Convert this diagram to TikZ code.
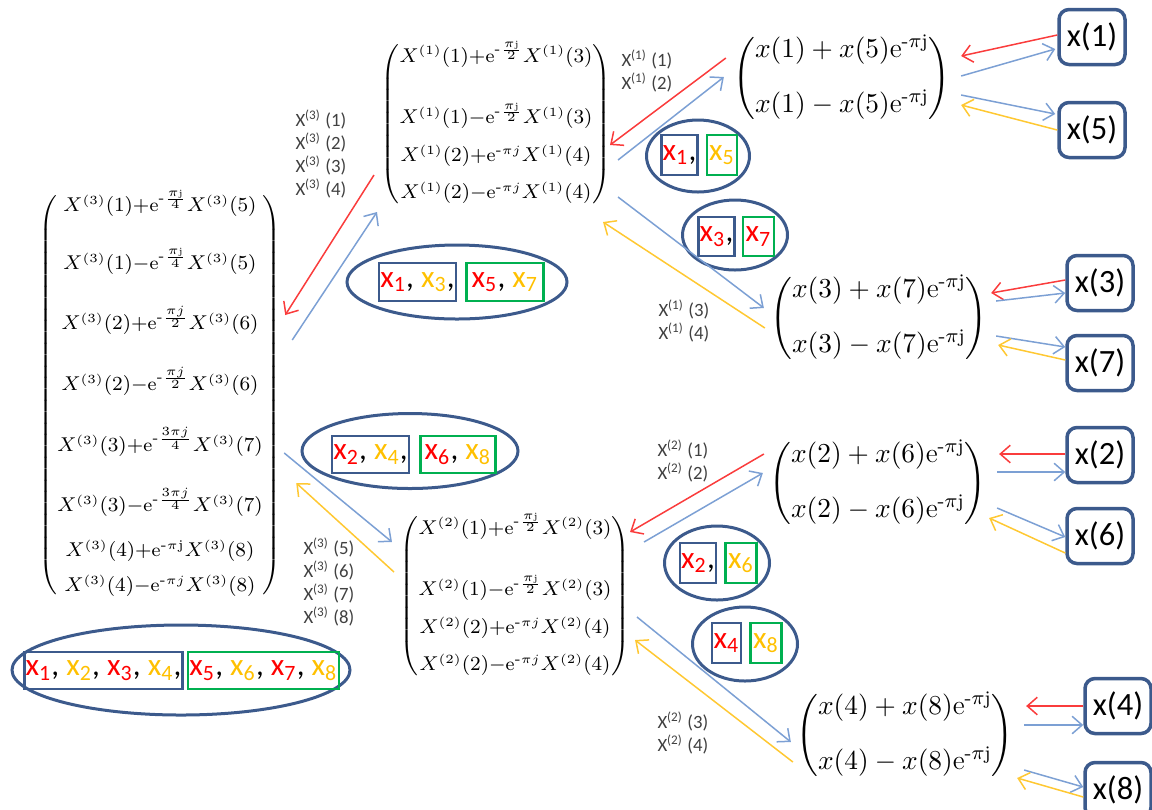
\documentclass[tikz,border=0pt]{standalone}
\usepackage{amsmath}
\usepackage{fontspec}
\setsansfont{Carlito}
\usepackage{tikz}
\usetikzlibrary{positioning,arrows.meta,calc,shapes.geometric}
\definecolor{frame}{RGB}{60,90,140}
\definecolor{setgreen}{RGB}{0,176,80}
\definecolor{xred}{RGB}{255,0,0}
\definecolor{xyel}{RGB}{255,192,0}
\definecolor{arrred}{RGB}{250,60,60}
\definecolor{arrblue}{RGB}{124,160,212}
\definecolor{arryel}{RGB}{255,200,50}
\newcommand{\xr}[1]{\textcolor{xred}{x\textsubscript{#1}}}
\newcommand{\xy}[1]{\textcolor{xyel}{x\textsubscript{#1}}}
\newcommand{\Xs}[1]{X\textsuperscript{(#1)}\ }
\newcommand{\nm}{\text{-}}

\begin{document}
\begin{tikzpicture}[x=0.4pt,y=-0.4pt,
    mat/.style={inner sep=0pt,font=\fontsize{7.6}{11}\selectfont},
    rmat/.style={inner sep=0pt,font=\fontsize{11}{13}\selectfont},
    leaf/.style={draw=frame,line width=1.4pt,rounded corners=4pt,minimum width=26.4pt,
                 minimum height=22pt,inner sep=1pt,font=\sffamily\fontsize{13}{15}\selectfont},
    lbl/.style={anchor=west,align=left,inner sep=0pt,text=black!75,
                font=\sffamily\fontsize{7.5}{9.2}\selectfont},
    grp/.style={ellipse,draw=frame,line width=1.2pt,inner sep=0pt},
    bset/.style={draw=frame,line width=1pt,inner xsep=0.5pt,inner ysep=0pt,
                 font=\sffamily\fontsize{12.5}{14}\selectfont},
    gset/.style={bset,draw=setgreen},
    lnk/.style={-{Straight Barb[length=4pt,width=7pt]},line width=0.6pt},
    rarr/.style={lnk,draw=arrred},
    barr/.style={lnk,draw=arrblue},
    yarr/.style={lnk,draw=arryel}
  ]
  \useasboundingbox (0,0) rectangle (1152,809);

  % Stage 3 (8 points)
  \node[mat] (m3) at (160,395) {$\left(\begin{array}{@{}c@{}}
    X^{(3)}(1){+}\mathrm{e}^{\nm\frac{\pi\mathrm{j}}{4}}X^{(3)}(5)\\[11.5pt]
    X^{(3)}(1){-}\mathrm{e}^{\nm\frac{\pi\mathrm{j}}{4}}X^{(3)}(5)\\[11.5pt]
    X^{(3)}(2){+}\mathrm{e}^{\nm\frac{\pi j}{2}}X^{(3)}(6)\\[11.5pt]
    X^{(3)}(2){-}\mathrm{e}^{\nm\frac{\pi j}{2}}X^{(3)}(6)\\[11.5pt]
    X^{(3)}(3){+}\mathrm{e}^{\nm\frac{3\pi j}{4}}X^{(3)}(7)\\[11.5pt]
    X^{(3)}(3){-}\mathrm{e}^{\nm\frac{3\pi j}{4}}X^{(3)}(7)\\[7pt]
    X^{(3)}(4){+}\mathrm{e}^{\nm\pi\mathrm{j}}X^{(3)}(8)\\[3pt]
    X^{(3)}(4){-}\mathrm{e}^{\nm\pi j}X^{(3)}(8)
  \end{array}\right)$};

  % Stage 2 (4 points)
  \node[mat] (m1a) at (496,124) {$\left(\begin{array}{@{}c@{}}
    X^{(1)}(1){+}\mathrm{e}^{\nm\frac{\pi\mathrm{j}}{2}}X^{(1)}(3)\\[13pt]
    X^{(1)}(1){-}\mathrm{e}^{\nm\frac{\pi\mathrm{j}}{2}}X^{(1)}(3)\\[4pt]
    X^{(1)}(2){+}\mathrm{e}^{\nm\pi j}X^{(1)}(4)\\[4pt]
    X^{(1)}(2){-}\mathrm{e}^{\nm\pi j}X^{(1)}(4)
  \end{array}\right)$};
  \node[mat] (m1b) at (515,596) {$\left(\begin{array}{@{}c@{}}
    X^{(2)}(1){+}\mathrm{e}^{\nm\frac{\pi\mathrm{j}}{2}}X^{(2)}(3)\\[13pt]
    X^{(2)}(1){-}\mathrm{e}^{\nm\frac{\pi\mathrm{j}}{2}}X^{(2)}(3)\\[4pt]
    X^{(2)}(2){+}\mathrm{e}^{\nm\pi j}X^{(2)}(4)\\[4pt]
    X^{(2)}(2){-}\mathrm{e}^{\nm\pi j}X^{(2)}(4)
  \end{array}\right)$};

  % Stage 1 (2 points)
  \node[rmat] (r15) at (842,78) {$\left(\begin{array}{@{}c@{}}
    x(1)+x(5)\mathrm{e}^{\nm\pi\mathrm{j}}\\[9pt] x(1)-x(5)\mathrm{e}^{\nm\pi\mathrm{j}}\end{array}\right)$};
  \node[rmat] (r37) at (879,318) {$\left(\begin{array}{@{}c@{}}
    x(3)+x(7)\mathrm{e}^{\nm\pi\mathrm{j}}\\[9pt] x(3)-x(7)\mathrm{e}^{\nm\pi\mathrm{j}}\end{array}\right)$};
  \node[rmat] (r26) at (878,483) {$\left(\begin{array}{@{}c@{}}
    x(2)+x(6)\mathrm{e}^{\nm\pi\mathrm{j}}\\[9pt] x(2)-x(6)\mathrm{e}^{\nm\pi\mathrm{j}}\end{array}\right)$};
  \node[rmat] (r48) at (905,735) {$\left(\begin{array}{@{}c@{}}
    x(4)+x(8)\mathrm{e}^{\nm\pi\mathrm{j}}\\[9pt] x(4)-x(8)\mathrm{e}^{\nm\pi\mathrm{j}}\end{array}\right)$};

  % inputs
  \node[leaf] (b1) at (1092,37) {x(1)};
  \node[leaf] (b5) at (1092,130) {x(5)};
  \node[leaf] (b3) at (1100,283) {x(3)};
  \node[leaf] (b7) at (1100,363) {x(7)};
  \node[leaf] (b2) at (1100,455) {x(2)};
  \node[leaf] (b6) at (1100,536) {x(6)};
  \node[leaf] (b4) at (1118,706) {x(4)};
  \node[leaf] (b8) at (1118,790) {x(8)};

  % index labels
  \node[lbl] (a3top) at (295,154) {\Xs{3}(1)\\\Xs{3}(2)\\\Xs{3}(3)\\\Xs{3}(4)};
  \node[lbl] (a3bot) at (303,582) {\Xs{3}(5)\\\Xs{3}(6)\\\Xs{3}(7)\\\Xs{3}(8)};
  \node[lbl] (a1top) at (621,71) {\Xs{1}(1)\\\Xs{1}(2)};
  \node[lbl] (a1bot) at (658,321) {\Xs{1}(3)\\\Xs{1}(4)};
  \node[lbl] (a2top) at (657,461) {\Xs{2}(1)\\\Xs{2}(2)};
  \node[lbl] (a2bot) at (657,733) {\Xs{2}(3)\\\Xs{2}(4)};

  % sample groups
  \node[grp,minimum width=135.2pt,minimum height=36pt] (e-all) at (181,670) {};
  \node[bset,minimum width=58pt,minimum height=14.8pt] (s-all-a) at (103.5,670.5)
    {\xr{1}, \xy{2}, \xr{3}, \xy{4},};
  \node[gset,minimum width=56.8pt,minimum height=14.8pt,right=1.2pt of s-all-a] (s-all-b)
    {\xr{5}, \xy{6}, \xr{7}, \xy{8}};

  \node[grp,minimum width=88pt,minimum height=29.6pt] (e-odd) at (457,282) {};
  \node[bset,minimum width=26.8pt,minimum height=15.2pt] (s-odd-a) at (417.5,282)
    {\xr{1}, \xy{3},};
  \node[gset,minimum width=30.8pt,minimum height=15.2pt,right=3.2pt of s-odd-a] (s-odd-b)
    {\xr{5}, \xy{7}};

  \node[grp,minimum width=86.4pt,minimum height=30pt] (e-even) at (410,451) {};
  \node[bset,minimum width=26.8pt,minimum height=14.8pt] (s-even-a) at (370.5,454.5)
    {\xr{2}, \xy{4},};
  \node[gset,minimum width=30pt,minimum height=14.8pt,right=3.6pt of s-even-a] (s-even-b)
    {\xr{6}, \xy{8}};

  \node[grp,minimum width=41.2pt,minimum height=28.8pt] (e-15) at (698,156) {};
  \node[bset,minimum width=12.4pt,minimum height=16pt] (s-15-a) at (679.5,155) {\xr{1},};
  \node[gset,minimum width=12pt,minimum height=16pt,right=2.8pt of s-15-a] (s-15-b) {\xy{5}};

  \node[grp,minimum width=42pt,minimum height=28pt] (e-37) at (735,235) {};
  \node[bset,minimum width=12.4pt,minimum height=15.6pt] (s-37-a) at (716.5,236.5) {\xr{3},};
  \node[gset,minimum width=12.4pt,minimum height=15.6pt,right=2.4pt of s-37-a] (s-37-b) {\xr{7}};

  \node[grp,minimum width=42pt,minimum height=29.6pt] (e-26) at (717,563) {};
  \node[bset,minimum width=12pt,minimum height=16pt] (s-26-a) at (698,563) {\xr{2},};
  \node[gset,minimum width=12.4pt,minimum height=16pt,right=2.8pt of s-26-a] (s-26-b) {\xy{6}};

  \node[grp,minimum width=42pt,minimum height=29.6pt] (e-48) at (745,644) {};
  \node[bset,minimum width=11.6pt,minimum height=16pt] (s-48-a) at (726.5,643) {\xr{4}};
  \node[gset,minimum width=12.4pt,minimum height=16pt,right=2.8pt of s-48-a] (s-48-b) {\xy{8}};

  % stage 3 <-> stage 2
  \draw[rarr] ($(m1a.west)+(-6,51)$) -- ($(m3.east)+(3,-80)$);
  \draw[barr] ($(m3.east)+(10,-55)$) -- ($(m1a.west)+(-3,88)$);
  \draw[barr] ($(m3.east)+(2,58)$) -- ($(m1b.west)+(-7,-54)$);
  \draw[yarr] ($(m1b.west)+(-5,-24)$) -- ($(m3.east)+(14,88)$);

  % stage 2 <-> stage 1
  \draw[rarr] ($(r15.west)+(-7,-20)$) -- ($(m1a.east)+(-2,21)$);
  \draw[barr] ($(m1a.east)+(6,36)$) -- ($(r15.west)+(-9,-1)$);
  \draw[barr] ($(m1a.east)+(6,73)$) -- ($(r37.west)+(-6,-10)$);
  \draw[yarr] ($(r37.west)+(-5,10)$) -- ($(m1a.east)+(-9,98)$);
  \draw[rarr] ($(r26.west)+(-5,-29)$) -- ($(m1b.east)+(-1,-64)$);
  \draw[barr] ($(m1b.east)+(13,-54)$) -- ($(r26.west)+(-6,-10)$);
  \draw[barr] ($(m1b.east)+(6,21)$) -- ($(r48.west)+(-5,7)$);
  \draw[yarr] ($(r48.west)+(-3,27)$) -- ($(m1b.east)+(4,44)$);

  % stage 1 <-> inputs
  \draw[rarr] ($(b1.west)+(0,-2)$) -- ($(r15.east)+(10,-22)$);
  \draw[barr] ($(r15.east)+(10,-2)$) -- ($(b1.west)+(-2,12)$);
  \draw[barr] ($(r15.east)+(10,17)$) -- ($(b5.west)+(-2,-16)$);
  \draw[yarr] (b5.west) -- ($(r15.east)+(10,27)$);
  \draw[rarr] ($(b3.west)+(0,-3)$) -- ($(r37.east)+(3,-25)$);
  \draw[barr] ($(r37.east)+(8,-17)$) -- ($(b3.west)+(0,10)$);
  \draw[barr] ($(r37.east)+(8,18)$) -- ($(b7.west)+(0,-16)$);
  \draw[yarr] ($(b7.west)+(0,-3)$) -- ($(r37.east)+(10,27)$);
  \draw[rarr] ($(b2.west)+(0,-1)$) -- ($(r26.east)+(12,-29)$);
  \draw[barr] ($(r26.east)+(10,-11)$) -- ($(b2.west)+(0,17)$);
  \draw[barr] ($(r26.east)+(10,25)$) -- ($(b6.west)+(0,1)$);
  \draw[yarr] ($(b6.west)+(0,17)$) -- ($(r26.east)+(2,35)$);
  \draw[rarr] (b4.west) -- ($(r48.east)+(12,-29)$);
  \draw[barr] ($(r48.east)+(10,-10)$) -- ($(b4.west)+(0,19)$);
  \draw[barr] ($(r48.east)+(10,35)$) -- ($(b8.west)+(0,-3)$);
  \draw[yarr] ($(b8.west)+(0,7)$) -- ($(r48.east)+(3,43)$);
\end{tikzpicture}
\end{document}
